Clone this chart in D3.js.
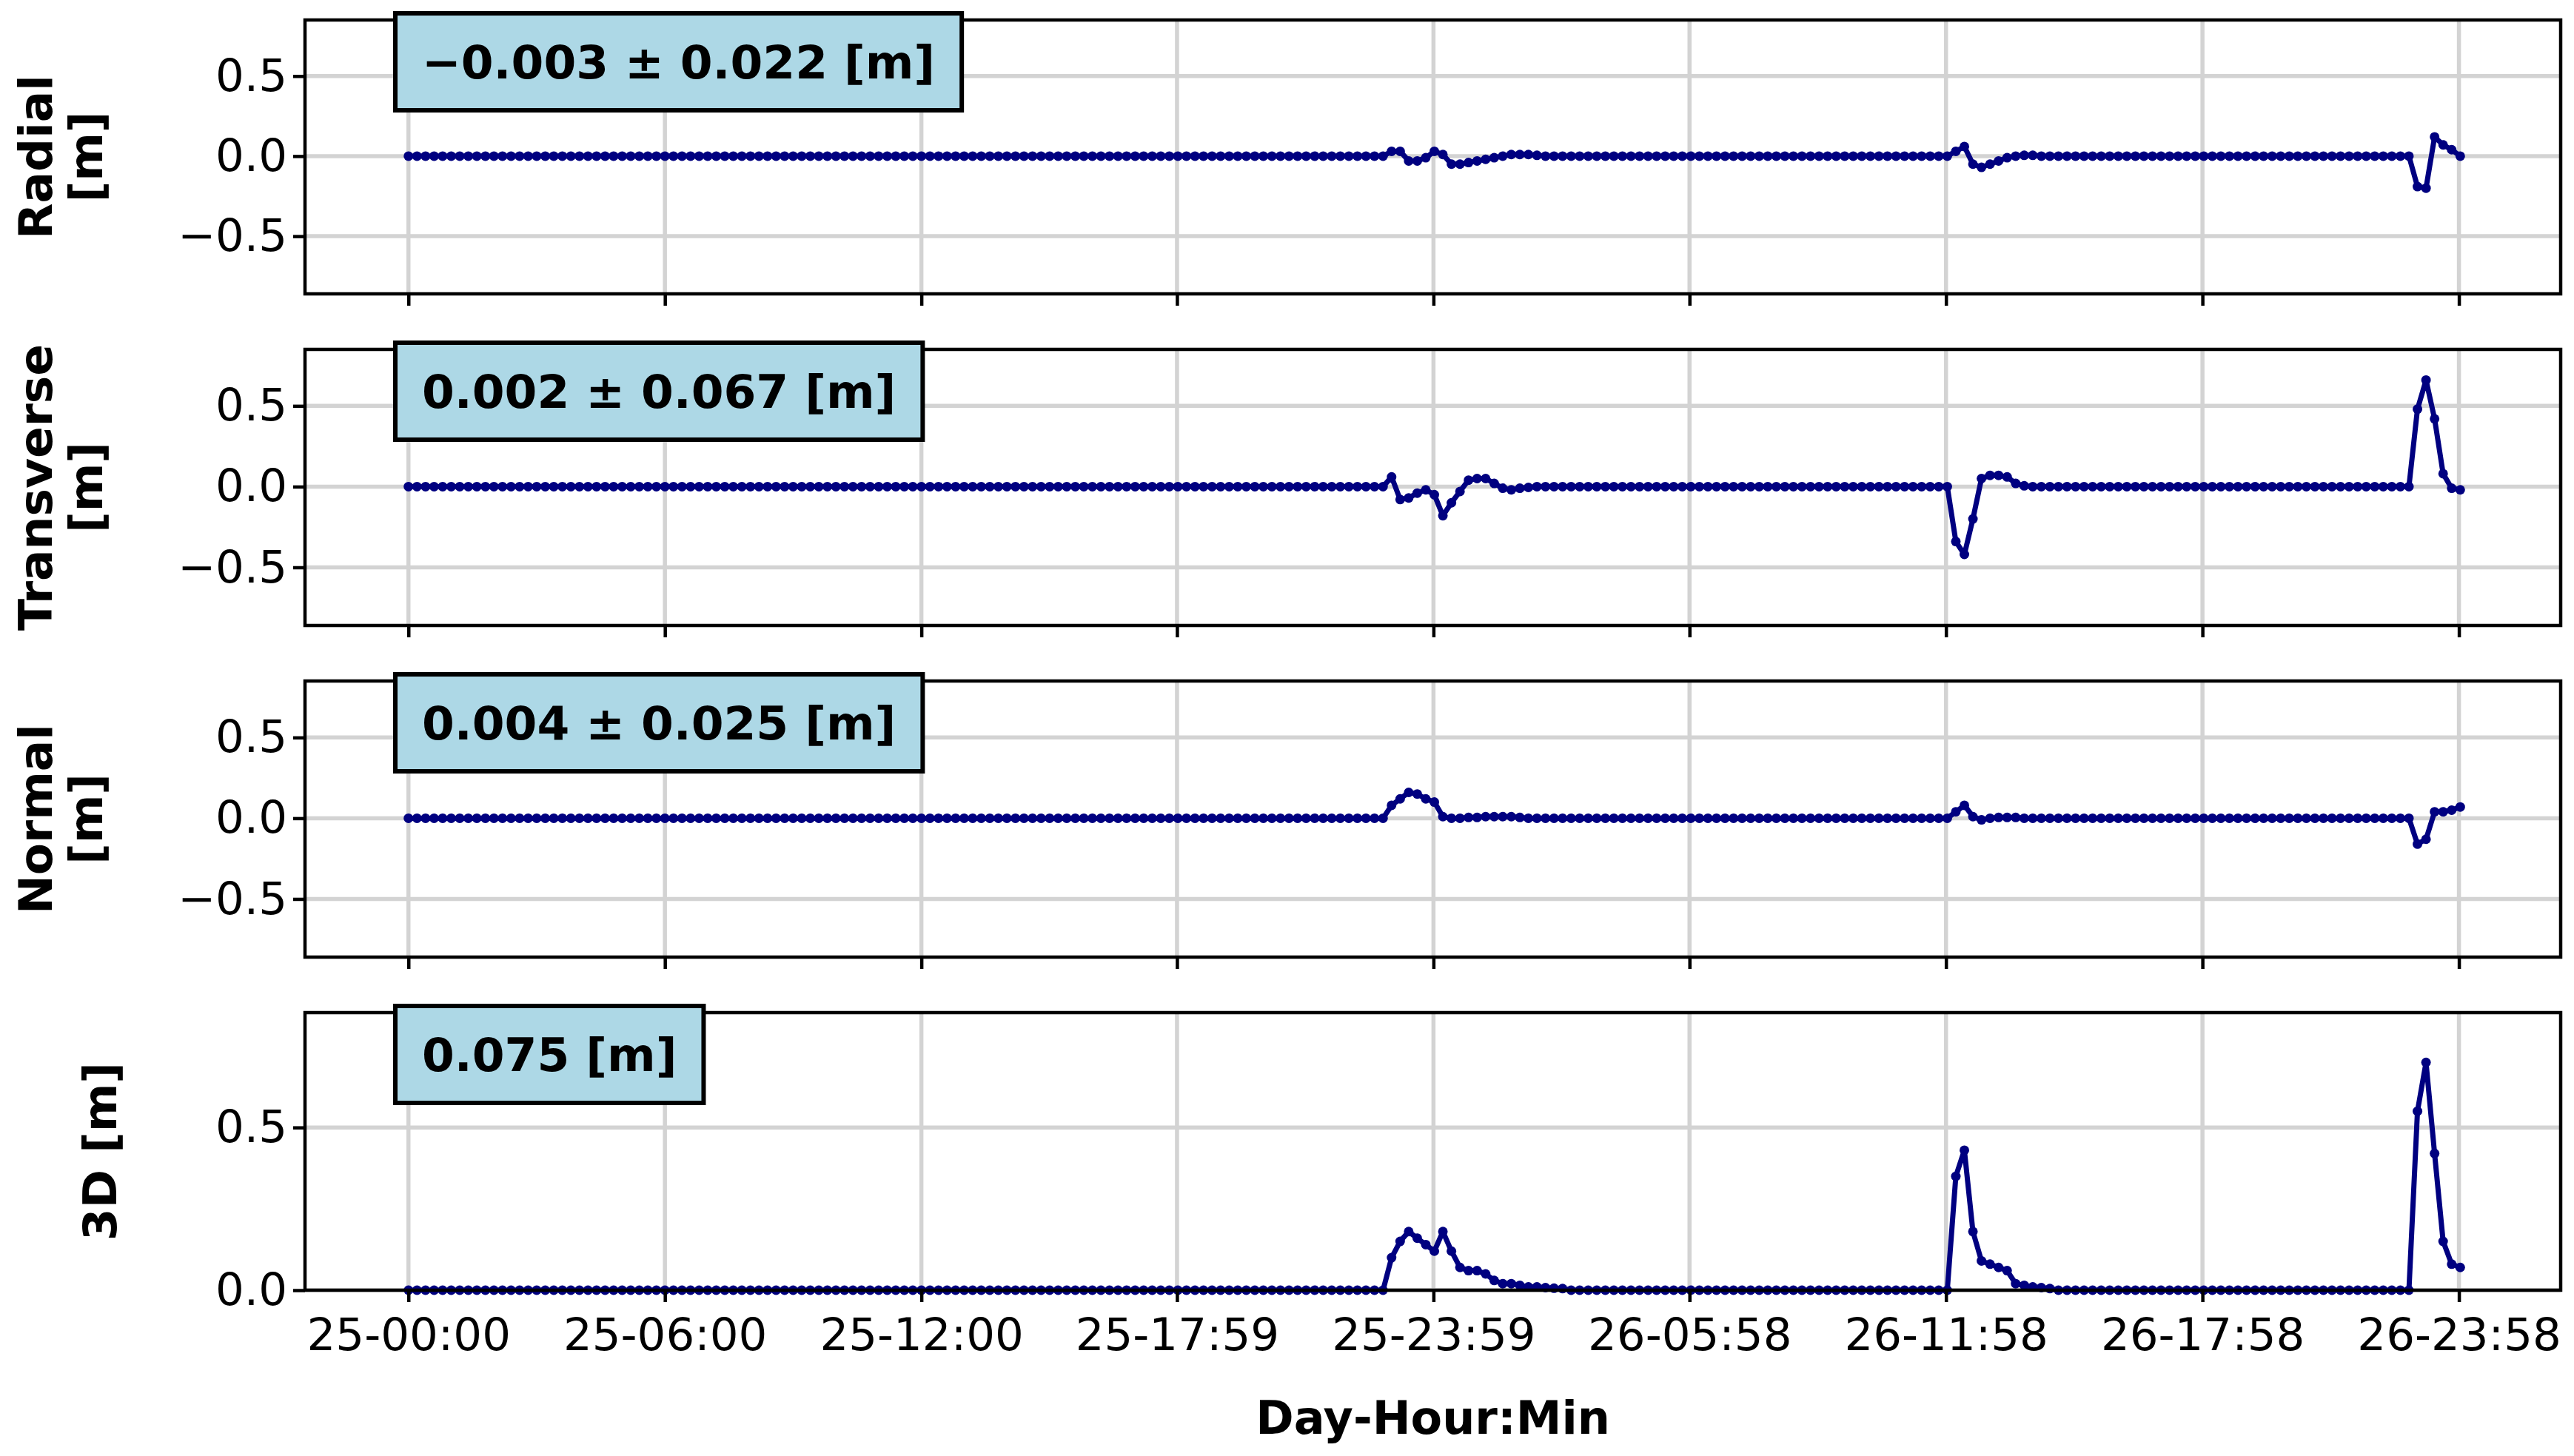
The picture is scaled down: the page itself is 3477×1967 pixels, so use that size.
<!DOCTYPE html>
<html><head><meta charset="utf-8">
<script src="https://cdn.jsdelivr.net/npm/d3@7"></script>
<style>body{margin:0;background:#fff}svg{display:block}</style>
</head><body>
<svg id="c" width="3477" height="1967"></svg>
<script>
// ---- data ----
const stepHours = 0.2;           // 12-minute samples
const nPoints = 241;             // 25-00:00 .. 26-23:58
const tickHours = [0, 6, 12, 17.98, 23.98, 29.97, 35.97, 41.97, 47.97];
const tickLabels = ["25-00:00","25-06:00","25-12:00","25-17:59","25-23:59","26-05:58","26-11:58","26-17:58","26-23:58"];
const panelNames = [["Radial","[m]"],["Transverse","[m]"],["Normal","[m]"],["3D [m]"]];
const boxTexts = ["\u22120.003 \u00b1 0.022 [m]","0.002 \u00b1 0.067 [m]","0.004 \u00b1 0.025 [m]","0.075 [m]"];
// non-zero samples: [index, value]
const radialEvents = [[115,0.03],[116,0.03],[117,-0.03],[118,-0.03],[119,-0.01],[120,0.03],[121,0.01],[122,-0.05],[123,-0.05],[124,-0.04],[125,-0.03],[126,-0.02],[127,-0.01],[129,0.01],[130,0.01],[131,0.01],[132,0.005],
  [181,0.03],[182,0.06],[183,-0.05],[184,-0.07],[185,-0.05],[186,-0.03],[187,-0.01],[189,0.005],[190,0.005],
  [235,-0.19],[236,-0.2],[237,0.12],[238,0.07],[239,0.04],[240,0.0]];
const transverseEvents = [[115,0.06],[116,-0.08],[117,-0.07],[118,-0.04],[119,-0.02],[120,-0.05],[121,-0.18],[122,-0.1],[123,-0.03],[124,0.04],[125,0.05],[126,0.05],[127,0.02],[128,-0.01],[129,-0.02],[130,-0.01],[131,-0.005],
  [181,-0.34],[182,-0.42],[183,-0.2],[184,0.05],[185,0.07],[186,0.07],[187,0.06],[188,0.02],[189,0.005],
  [235,0.48],[236,0.66],[237,0.42],[238,0.08],[239,-0.01],[240,-0.02]];
const normalEvents = [[115,0.08],[116,0.12],[117,0.16],[118,0.15],[119,0.12],[120,0.1],[121,0.01],[124,0.005],[125,0.005],[126,0.01],[127,0.01],[128,0.01],[129,0.01],[130,0.005],
  [181,0.04],[182,0.08],[183,0.01],[184,-0.01],[186,0.005],[187,0.005],[188,0.005],
  [235,-0.16],[236,-0.13],[237,0.04],[238,0.04],[239,0.05],[240,0.07]];
const total3dEvents = [[115,0.10],[116,0.15],[117,0.18],[118,0.16],[119,0.14],[120,0.12],[121,0.18],[122,0.12],[123,0.07],[124,0.06],[125,0.06],[126,0.05],[127,0.03],[128,0.02],[129,0.02],[130,0.015],[131,0.01],[132,0.01],[133,0.008],[134,0.006],[135,0.005],
  [181,0.35],[182,0.43],[183,0.18],[184,0.09],[185,0.08],[186,0.07],[187,0.06],[188,0.02],[189,0.015],[190,0.01],[191,0.008],[192,0.005],
  [235,0.55],[236,0.7],[237,0.42],[238,0.15],[239,0.08],[240,0.07]];

function series(ev){const v=new Array(nPoints).fill(0);ev.forEach(([i,y])=>v[i]=y);return v.map((y,i)=>({h:i*stepHours,y}));}
const allSeries=[series(radialEvents),series(transverseEvents),series(normalEvents),series(total3dEvents)];

// ---- layout ----
const svg=d3.select("#c");
const L=412,R=3459;
const panels=[{t:27,b:397,d:[-0.86,0.85],ticks:[-0.5,0,0.5]},{t:472,b:845,d:[-0.86,0.85],ticks:[-0.5,0,0.5]},{t:920,b:1293,d:[-0.86,0.85],ticks:[-0.5,0,0.5]},{t:1368,b:1743,d:[0,0.853],ticks:[0,0.5]}];
const x=d3.scaleLinear().domain([-2.42,50.35]).range([L,R]);
const FONT="DejaVu Sans, sans-serif";
const fmt=v=>(v<0?"\u2212":"")+Math.abs(v).toFixed(1);

panels.forEach((p,k)=>{
  const y=d3.scaleLinear().domain(p.d).range([p.b,p.t]);
  const g=svg.append("g");
  g.selectAll(".gx").data(tickHours).join("line").attr("x1",d=>x(d)).attr("x2",d=>x(d)).attr("y1",p.t).attr("y2",p.b).attr("stroke","#d3d3d3").attr("stroke-width",5.5);
  g.selectAll(".gy").data(p.ticks).join("line").attr("x1",L).attr("x2",R).attr("y1",d=>y(d)).attr("y2",d=>y(d)).attr("stroke","#d3d3d3").attr("stroke-width",5.5);
  const data=allSeries[k];
  g.append("path").datum(data).attr("fill","none").attr("stroke","#000080").attr("stroke-width",7).attr("stroke-linejoin","round")
    .attr("d",d3.line().x(d=>x(d.h)).y(d=>y(d.y)));
  g.selectAll("circle").data(data).join("circle").attr("cx",d=>x(d.h)).attr("cy",d=>y(d.y)).attr("r",6.5).attr("fill","#000080");
  const ya=d3.axisLeft(y).tickValues(p.ticks).tickFormat(fmt).tickSize(16).tickPadding(8);
  const yg=g.append("g").attr("transform",`translate(${L},0)`).call(ya);
  const xa=d3.axisBottom(x).tickValues(tickHours).tickFormat((d,i)=>k===3?tickLabels[i]:"").tickSize(16).tickPadding(22);
  const xg=g.append("g").attr("transform",`translate(0,${p.b})`).call(xa);
  [yg,xg].forEach(a=>{a.select(".domain").remove();a.selectAll("line").attr("stroke","#000").attr("stroke-width",4.5);a.selectAll("text").attr("font-family",FONT).attr("font-size",61).attr("fill","#000");});
  g.append("rect").attr("x",L).attr("y",p.t).attr("width",R-L).attr("height",p.b-p.t).attr("fill","none").attr("stroke","#000").attr("stroke-width",4.5);
  const names=panelNames[k];
  const cy=(p.t+p.b)/2;
  const lab=g.append("text").attr("transform",`translate(${names.length>1?88:135},${cy}) rotate(-90)`).attr("text-anchor","middle").attr("font-family",FONT).attr("font-weight","bold").attr("font-size",63);
  names.forEach((n,i)=>lab.append("tspan").attr("x",0).attr("dy",i===0?(names.length>1?-18:22):68).text(n));
  const bt=g.append("text").attr("x",570).attr("y",p.t-9+66).attr("dominant-baseline","central").attr("font-family",FONT).attr("font-weight","bold").attr("font-size",63).text(boxTexts[k]);
  const w=bt.node().getComputedTextLength();
  g.insert("rect",()=>bt.node()).attr("x",534).attr("y",p.t-9).attr("width",w+72).attr("height",131).attr("fill","#add8e6").attr("stroke","#000").attr("stroke-width",6);
});
svg.append("text").attr("x",(L+R)/2).attr("y",1937).attr("text-anchor","middle").attr("font-family",FONT).attr("font-weight","bold").attr("font-size",62).text("Day-Hour:Min");
</script>
</body></html>
